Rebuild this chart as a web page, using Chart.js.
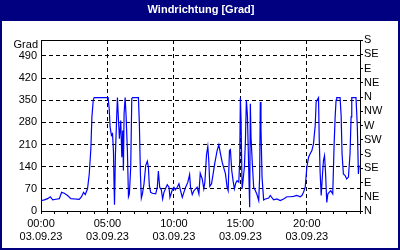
<!DOCTYPE html>
<html>
<head>
<meta charset="utf-8">
<script src="https://cdn.jsdelivr.net/npm/chart.js@4.4.0/dist/chart.umd.min.js"></script>
<style>
  html, body { margin: 0; padding: 0; background: #000080; }
  canvas { display: block; }
</style>
</head>
<body>
<canvas id="windChart" width="400" height="250"></canvas>
<script>
// --- DATA ---
const times = [
  0, 0.25, 0.5, 0.7, 0.88, 1.13, 1.38, 1.55, 1.75, 2, 2.25, 2.5, 2.88, 3.05, 3.2, 3.33, 3.5, 3.63, 3.75, 3.83, 3.93, 4,
  5.05, 5.13, 5.2, 5.3, 5.38, 5.45, 5.5, 5.53, 5.6, 5.7, 5.75, 5.8, 5.9, 6, 6.08, 6.15, 6.2, 6.25, 6.33, 6.4, 6.5, 6.58, 6.65, 6.75, 6.83, 6.9,
  7.33, 7.4, 7.48, 7.55, 7.63, 7.75, 7.88, 8, 8.08, 8.15, 8.25, 8.38, 8.63, 8.75, 8.83, 8.93, 9.05, 9.15, 9.25, 9.38, 9.5, 9.63, 9.7, 9.8, 9.9, 10,
  10.1, 10.25, 10.38, 10.5, 10.63, 10.75, 10.88, 11.05, 11.18, 11.25, 11.38, 11.5, 11.63, 11.75, 11.88, 11.98, 12.13, 12.25, 12.33, 12.45, 12.55, 12.63, 12.7, 12.83, 12.95, 13.08, 13.25, 13.38, 13.5, 13.63, 13.75, 13.88,
  14, 14.08, 14.18, 14.25, 14.35, 14.45, 14.55, 14.65, 14.75, 14.88, 14.95, 15, 15.05, 15.13, 15.2, 15.3, 15.38, 15.45, 15.53, 15.63, 15.7, 15.75, 15.8, 15.9, 16, 16.13, 16.25, 16.38, 16.45, 16.5, 16.55, 16.63, 16.75,
  16.88, 17.13, 17.25, 17.5, 17.75, 18, 18.25, 18.5, 18.75, 19, 19.25, 19.5, 19.63, 19.75, 19.88, 20,
  20.13, 20.25, 20.38, 20.5, 20.63, 20.7, 20.8, 20.88, 20.93, 21, 21.08, 21.18, 21.25, 21.33, 21.4, 21.5, 21.58, 21.68, 21.8, 21.95, 22.05, 22.13, 22.2, 22.25, 22.5, 22.58, 22.65, 22.75, 22.88, 23, 23.13, 23.25, 23.33, 23.38, 23.7, 23.8, 23.88, 23.93
];
const degrees = [
  33, 35, 39, 45, 35, 37, 39, 59, 56, 49, 39, 38, 37, 45, 59, 52, 70, 117, 196, 297, 350, 358,
  358, 323, 265, 239, 244, 191, 75, 20, 181, 305, 358, 313, 228, 286, 170, 254, 128, 307, 358, 302, 191, 45, 54, 138, 355, 358,
  358, 276, 117, 41, 54, 86, 144, 157, 138, 80, 59, 56, 54, 75, 126, 75, 67, 38, 59, 72, 83, 75, 43, 56, 70, 75,
  67, 75, 86, 64, 43, 59, 75, 91, 115, 75, 52, 64, 70, 75, 54, 119, 101, 70, 91, 177, 204, 154, 78, 86, 117, 152, 191, 209, 181, 154, 136, 117,
  75, 64, 191, 194, 128, 96, 70, 88, 96, 91, 159, 358, 286, 70, 96, 138, 221, 350, 302, 128, 12, 339, 233, 149, 75, 64, 52, 33, 107, 344, 260, 107, 35,
  38, 41, 49, 35, 38, 33, 38, 45, 45, 46, 49, 45, 49, 59, 75, 138,
  170, 181, 191, 212, 270, 344, 352, 358, 233, 122, 49, 117, 159, 175, 128, 27, 54, 59, 64, 54, 207, 297, 350, 358, 358, 302, 181, 117, 112, 101, 107, 181, 297, 358, 358, 265, 117, 144
];
const gradTicks = [0, 70, 140, 210, 280, 350, 420, 490];
const compassLabels = ['N', 'NE', 'E', 'SE', 'S', 'SW', 'W', 'NW', 'N', 'NE', 'E', 'SE', 'S'];
const hourLabels = ['00:00', '05:00', '10:00', '15:00', '20:00'];
const dateLabel = '03.09.23';

const FONT = { family: 'Liberation Sans, Arial, sans-serif', size: 11 };

// --- FRAME, TITLE AND BOX TOP ---
const framePlugin = {
    id: 'frame',
    beforeDraw(chart) {
        const c = chart.ctx;
        c.save();
        c.fillStyle = '#000080';
        c.fillRect(0, 0, 400, 250);
        c.fillStyle = '#ffffff';
        c.fillRect(2, 21, 396, 227);
        c.fillStyle = '#ffffff';
        c.font = 'bold 11px Liberation Sans, Arial, sans-serif';
        c.textAlign = 'center';
        c.textBaseline = 'middle';
        c.fillText('Windrichtung [Grad]', 201, 10);
        c.restore();
    },
    afterDraw(chart) {
        const a = chart.chartArea;
        const c = chart.ctx;
        c.save();
        c.strokeStyle = '#000';
        c.lineWidth = 1;
        c.beginPath();
        c.moveTo(Math.round(a.left), Math.round(a.top) + 0.5);
        c.lineTo(Math.round(a.right) + 1, Math.round(a.top) + 0.5);
        c.stroke();
        c.fillStyle = '#000';
        c.font = '11px Liberation Sans, Arial, sans-serif';
        c.textAlign = 'right';
        c.textBaseline = 'middle';
        c.fillText('Grad', 38, 45);
        c.restore();
    }
};

const ctx = document.getElementById('windChart').getContext('2d');
new Chart(ctx, {
    type: 'line',
    data: {
        datasets: [{
            data: times.map((t, i) => ({ x: t, y: degrees[i] })),
            borderColor: '#0000ff',
            borderWidth: 1.2,
            pointRadius: 0,
            tension: 0,
            fill: false
        }]
    },
    options: {
        responsive: false,
        animation: false,
        devicePixelRatio: 1,
        layout: { padding: { top: 40, left: 0, right: 0, bottom: 0 } },
        plugins: { legend: { display: false }, tooltip: { enabled: false } },
        scales: {
            x: {
                type: 'linear',
                min: 0,
                max: 24,
                afterFit: s => { s.height = 39; },
                afterBuildTicks: s => { s.ticks = Array.from({ length: 25 }, (_, i) => ({ value: i })); },
                ticks: {
                    autoSkip: false,
                    maxRotation: 0,
                    padding: 3,
                    color: '#000',
                    font: FONT,
                    callback: v => (v % 5 === 0 && v < 24) ? [hourLabels[v / 5], dateLabel] : ''
                },
                grid: {
                    color: c => (c.tick && c.tick.value % 5 === 0 && c.tick.value > 0 && c.tick.value < 24) ? '#000' : 'rgba(0,0,0,0)',
                    tickColor: '#000',
                    tickLength: 3
                },
                border: { color: '#000', dash: [4, 3] }
            },
            y: {
                position: 'left',
                min: 0,
                max: 540,
                afterFit: s => { s.width = 41; },
                afterBuildTicks: s => { s.ticks = gradTicks.map(v => ({ value: v })); },
                ticks: { autoSkip: false, color: '#000', font: FONT, padding: 4 },
                grid: {
                    color: c => (c.tick && c.tick.value > 0) ? '#000' : 'rgba(0,0,0,0)',
                    drawTicks: false
                },
                border: { color: '#000', dash: [4, 3] }
            },
            y2: {
                position: 'right',
                min: 0,
                max: 540,
                afterFit: s => { s.width = 40; },
                afterBuildTicks: s => { s.ticks = compassLabels.map((_, i) => ({ value: i * 45 })); },
                ticks: {
                    autoSkip: false,
                    color: '#000',
                    font: FONT,
                    padding: 1,
                    callback: (v, i) => compassLabels[i]
                },
                grid: { drawOnChartArea: false, tickColor: '#000', tickLength: 3 },
                border: { color: '#000' }
            }
        }
    },
    plugins: [framePlugin]
});
</script>
</body>
</html>
